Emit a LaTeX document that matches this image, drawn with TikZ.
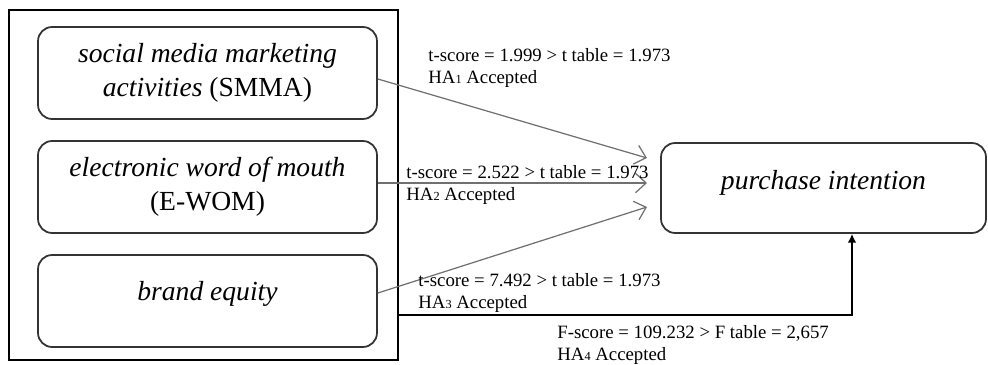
\documentclass[tikz,border=0pt]{standalone}
\usepackage{fontspec}
\setmainfont{Liberation Serif}
\usetikzlibrary{arrows.meta}
\definecolor{arrgray}{HTML}{707070}
\definecolor{boxgray}{HTML}{333333}
\tikzset{
  varbox/.style={draw=boxgray, line width=1pt, rounded corners=8pt,
    minimum width=6.78cm, minimum height=1.84cm, align=center,
    font=\fontsize{15.7}{19.5}\selectfont\itshape},
  hyplabel/.style={anchor=west, inner sep=0pt, align=left,
    font=\fontsize{10.7}{13}\selectfont},
  effect/.style={arrgray, line width=0.7pt, -{Straight Barb[length=6pt,width=11pt]}}
}
\newcommand{\hnum}[1]{{\fontsize{7}{7}\selectfont #1}}
\begin{document}
\begin{tikzpicture}[x=0.02cm, y=-0.02cm]
  \useasboundingbox (0,0) rectangle (988,365);
  % kader oko nezavisnih varijabli
  \node[draw, line width=0.7pt, minimum width=7.78cm, minimum height=7cm, inner sep=0pt]
    (frame) at (203.5,185) {};
  \node[varbox] (smma) at (207.5,73) {social media marketing\\activities {\upshape(SMMA)}};
  \node[varbox] (ewom) at (207.5,187) {electronic word of mouth\\{\upshape(E-WOM)}};
  \node[varbox, text depth=12pt] (be) at (207.5,301) {brand equity};
  \node[varbox, text depth=9pt, minimum width=6.5cm, minimum height=1.8cm] (pi) at (823.5,188) {purchase intention};
  % krajevi strelica
  \coordinate (t1) at (647,158);
  \coordinate (t2) at (647,183);
  \coordinate (t3) at (647,207);
  \coordinate (fc) at (852,315);
  \draw[effect] (smma.east) ++(0,6) -- (t1);
  \draw[effect] (ewom.east) ++(0,-4) -- (t2);
  \draw[effect] (be.east) ++(0,-8) -- (t3);
  % simultani efekat
  \draw[line width=1.3pt, -{Latex[length=5pt,width=5pt]}] (frame.east |- fc) -- (fc) -- (fc |- pi.south);
  % oznake
  \node[hyplabel] (l1) at (428,68) {t-score = 1.999 > t table = 1.973\\HA\hnum{1} Accepted};
  \node[hyplabel] (l2) at (406,185) {t-score = 2.522 > t table = 1.973\\HA\hnum{2} Accepted};
  \node[hyplabel] (l3) at (418,293) {t-score = 7.492 > t table = 1.973\\HA\hnum{3} Accepted};
  \node[hyplabel] (l4) at (557,345) {F-score = 109.232 > F table = 2,657\\HA\hnum{4} Accepted};
\end{tikzpicture}
\end{document}
